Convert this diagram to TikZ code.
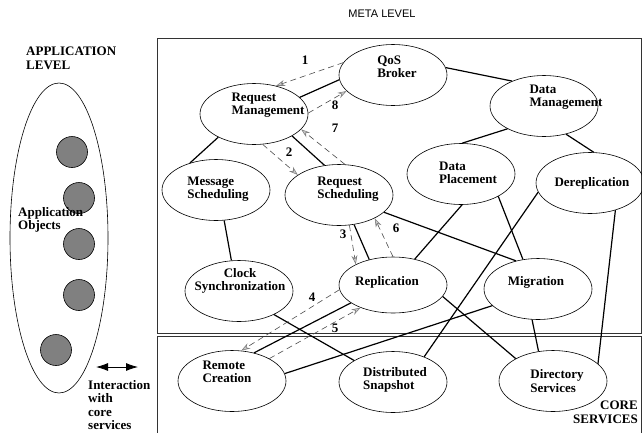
\documentclass[tikz,border=0pt]{standalone}
\usepackage{fontspec}
\setmainfont{Liberation Serif}
\newfontfamily\metafont{Liberation Sans}
\usetikzlibrary{shapes.geometric, arrows.meta}

\tikzset{
  service/.style={draw, ellipse, line width=0.6pt, minimum width=108pt, minimum height=61pt, inner sep=0pt},
  svctext/.style={align=left, inner sep=0pt, font=\fontsize{13}{13.5}\selectfont\bfseries},
  appobj/.style={draw, circle, fill=gray, line width=0.6pt, minimum size=31pt, inner sep=0pt},
  link/.style={line width=1.2pt},
  msg/.style={dash pattern=on 6pt off 4pt, black!70, line width=0.6pt,
    -{Stealth[length=9pt, width=6pt, color=gray, fill=gray!40]}},
  num/.style={font=\fontsize{13}{13.5}\selectfont\bfseries},
  lbl/.style={font=\fontsize{13}{13.5}\selectfont\bfseries, align=left, inner sep=0pt}
}

\begin{document}
\begin{tikzpicture}[x=1pt, y=-1pt]
        \useasboundingbox (0,0) rectangle (642,432);

        % Levels
        \node[font=\metafont\fontsize{11}{12}\selectfont] (metatitle) at (382,14) {META LEVEL};
        \draw[line width=0.8pt, black!80] (157,38) rectangle (641,333);
        \draw[line width=0.8pt, black!80] (157,336) rectangle (641,445);
        \node[lbl, anchor=north west] (applevel) at (26,47) {APPLICATION\\LEVEL};
        \node[lbl, anchor=north east, align=right] (corelevel) at (638,401) {CORE\\SERVICES};

        % Application objects
        \node[draw, ellipse, line width=0.6pt, minimum width=98pt, minimum height=310pt] (appset) at (59,238) {};
        \node[appobj] (obj1) at (72,152) {};
        \node[appobj] (obj2) at (79,198) {};
        \node[appobj] (obj3) at (79,244) {};
        \node[appobj] (obj4) at (79,295) {};
        \node[appobj] (obj5) at (56,350) {};
        \node[lbl, anchor=north west] (objtext) at (18,207) {Application\\Objects};

        % Interaction with core services
        \coordinate (ia) at (96,367);
        \coordinate (ib) at (138,367);
        \draw[line width=0.8pt, {Latex[length=12pt, width=8pt]}-{Latex[length=12pt, width=8pt]}] (ia) -- (ib);
        \node[lbl, anchor=north west] (itext) at (88,380) {Interaction\\with\\core\\services};

        % Meta level services
        \node[service] (qos) at (393,75) {};
        \node[service] (reqmgmt) at (254,114) {};
        \node[service] (datamgmt) at (544,106) {};
        \node[service] (dataplace) at (461,174) {};
        \node[service] (dereplic) at (590,183) {};
        \node[service] (msgsched) at (216,190) {};
        \node[service] (reqsched) at (339,195) {};
        \node[service] (clocksync) at (239,291) {};
        \node[service, minimum height=56pt] (replic) at (393,285) {};
        \node[service] (migration) at (538,289) {};

        % Core services
        \node[service] (remote) at (232,381) {};
        \node[service] (snapshot) at (393,382) {};
        \node[service] (directory) at (553,381) {};

        % Service names
        \node[svctext] (qos-t) at ([shift={(4,-8)}]qos.center) {QoS\\Broker};
        \node[svctext] (reqmgmt-t) at ([shift={(14,-9)}]reqmgmt.center) {Request\\Management};
        \node[svctext] (datamgmt-t) at ([shift={(22,-9)}]datamgmt.center) {Data\\Management};
        \node[svctext] (dataplace-t) at ([shift={(7,-1)}]dataplace.center) {Data\\Placement};
        \node[svctext] (dereplic-t) at ([shift={(2,0)}]dereplic.center) {Dereplication};
        \node[svctext] (msgsched-t) at ([shift={(2,-1)}]msgsched.center) {Message\\Scheduling};
        \node[svctext] (reqsched-t) at ([shift={(9,-6)}]reqsched.center) {Request\\Scheduling};
        \node[svctext, align=center] (clocksync-t) at ([shift={(1,-10)}]clocksync.center) {Clock\\Synchronization};
        \node[svctext] (replic-t) at ([shift={(-6,-3)}]replic.center) {Replication};
        \node[svctext] (migration-t) at ([shift={(-2,-7)}]migration.center) {Migration};
        \node[svctext] (remote-t) at ([shift={(-5,-9)}]remote.center) {Remote\\Creation};
        \node[svctext] (snapshot-t) at ([shift={(2,-2)}]snapshot.center) {Distributed\\Snapshot};
        \node[svctext] (directory-t) at ([shift={(4,0)}]directory.center) {Directory\\Services};

        % Solid links
        \draw[link] (reqmgmt.20) -- (qos.185);
        \draw[link] (qos.8) -- (datamgmt.142);
        \draw[link] (datamgmt.212) -- (dataplace.88);
        \draw[link] (datamgmt.308) -- (dereplic.83);
        \draw[link] (reqmgmt.213) -- (msgsched.134);
        \draw[link] (reqmgmt.330) -- (reqsched.116);
        \draw[link] (msgsched.285) -- (clocksync.104);
        \draw[link] (reqsched.297) -- (replic.133);
        \draw[link] (reqsched.339) -- (migration.128);
        \draw[link] (dataplace.272) -- (replic.50);
        \draw[link] (dataplace.329) -- (migration.117);
        \draw[link] (dereplic.190) -- (snapshot.39);
        \draw[link] (dereplic.313) -- (directory.21);
        \draw[link] (replic.347) -- (directory.149);
        \draw[link] (migration.200) -- (remote.8);
        \draw[link] (replic.203) -- (remote.52);
        \draw[link] (clocksync.326) -- (snapshot.151);
        \draw[link] (migration.259) -- (directory.116);

        % Request flow
        \draw[msg] (qos.166) -- (reqmgmt.52);
        \draw[msg] (reqmgmt.286) -- (reqsched.154);
        \draw[msg] (reqsched.289) -- (replic.151);
        \draw[msg] (replic.185) -- (remote.73);
        \draw[msg] (remote.31) -- (replic.215);
        \draw[msg] (replic.90) -- (reqsched.327);
        \draw[msg] (reqsched.79) -- (reqmgmt.342);
        \draw[msg] (reqmgmt.1) -- (qos.199);
        \node[num] (n1) at (305,60) {1};
        \node[num] (n2) at (289,152) {2};
        \node[num] (n3) at (343,234) {3};
        \node[num] (n4) at (312,297) {4};
        \node[num] (n5) at (335,328) {5};
        \node[num] (n6) at (396,228) {6};
        \node[num] (n7) at (335,128) {7};
        \node[num] (n8) at (335,105) {8};
\end{tikzpicture}
\end{document}
